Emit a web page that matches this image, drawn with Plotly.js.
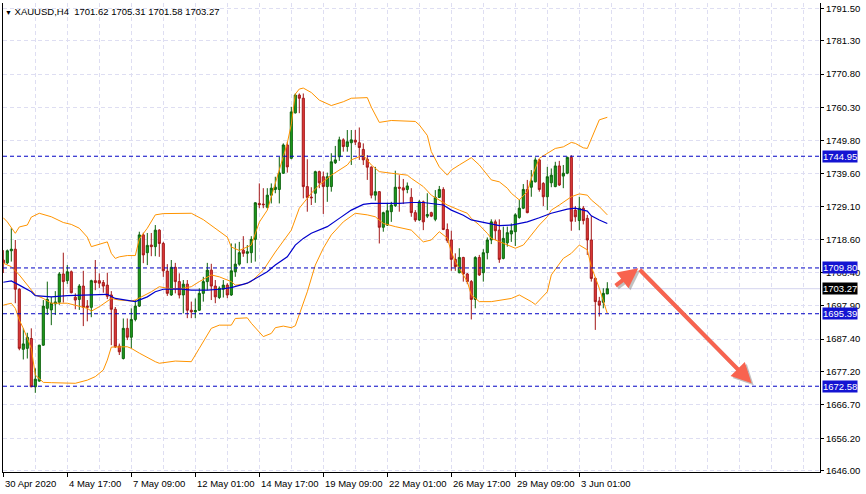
<!DOCTYPE html>
<html><head><meta charset="utf-8">
<script src="https://cdn.plot.ly/plotly-3.0.1.min.js"></script>
<style>html,body{margin:0;padding:0;background:#fff;}#chart{width:866px;height:494px;}</style>
</head><body><div id="chart"></div>
<script>
// ---- XAUUSD H4 candles (bar index = position) ----
const open = [1712.3,1711.4,1715.2,1715.7,1703.1,1684.2,1684.5,1687.6,1672.4,1674.2,
1685.5,1697.1,1696.6,1698.5,1699.0,1707.9,1705.8,1708.6,1700.6,1699.9,
1704.1,1697.8,1697.4,1705.8,1705.8,1705.2,1704.4,1701.3,1696.8,1685.2,
1681.3,1690.8,1688.0,1693.6,1697.8,1720.2,1714.6,1717.0,1716.5,1721.7,
1717.5,1708.8,1701.3,1710.0,1705.5,1701.3,1704.7,1696.5,1696.0,1696.5,
1701.8,1705.5,1709.1,1704.1,1700.5,1703.1,1704.4,1701.3,1708.6,1711.0,
1715.4,1714.4,1714.6,1718.8,1730.1,1729.9,1728.9,1732.7,1734.5,1734.5,
1739.6,1748.5,1744.3,1758.6,1764.2,1763.2,1735.4,1732.1,1733.3,1740.1,
1738.5,1735.4,1735.4,1742.9,1744.8,1750.1,1748.0,1749.2,1750.0,1749.2,
1747.1,1744.0,1741.5,1732.7,1733.8,1722.6,1723.3,1727.5,1729.4,1735.2,
1735.0,1734.5,1732.0,1727.2,1724.9,1730.6,1726.1,1727.2,1725.1,1732.0,
1734.5,1721.9,1718.6,1712.5,1708.3,1713.1,1707.9,1705.5,1699.9,1713.1,
1708.3,1714.6,1718.6,1724.3,1721.7,1712.8,1717.7,1720.5,1721.2,1725.7,
1728.6,1734.5,1735.2,1736.9,1743.8,1736.4,1732.2,1736.6,1735.4,1741.9,
1738.7,1739.6,1744.6,1728.0,1724.7,1728.6,1725.4,1718.6,1706.5,1699.4,
1699.0,1701.62];
const high = [1715.4,1715.6,1722.3,1718.6,1703.4,1690.8,1689.4,1690.8,1678.2,1685.6,
1699.7,1705.5,1700.7,1702.5,1708.5,1714.6,1710.7,1709.0,1701.8,1704.7,
1708.9,1699.7,1706.1,1712.3,1708.1,1706.0,1708.3,1702.5,1697.5,1686.0,
1693.9,1693.9,1697.1,1699.7,1721.2,1720.9,1720.8,1720.8,1723.3,1722.0,
1718.0,1711.0,1712.3,1711.4,1708.1,1706.0,1706.0,1699.2,1700.2,1703.4,
1707.0,1711.4,1711.1,1706.0,1704.0,1706.0,1705.0,1717.5,1717.5,1718.0,
1719.8,1717.0,1719.8,1730.5,1736.4,1734.9,1734.9,1736.4,1738.5,1744.8,
1749.0,1749.5,1760.5,1764.7,1764.7,1764.7,1744.0,1735.2,1740.4,1740.4,
1740.1,1739.8,1745.9,1748.2,1751.1,1750.6,1753.2,1753.2,1753.2,1754.0,
1749.0,1745.3,1741.8,1741.6,1734.0,1727.5,1730.3,1730.6,1740.4,1739.0,
1737.8,1736.7,1734.9,1728.0,1731.2,1731.0,1733.3,1727.5,1734.3,1735.6,
1735.2,1723.8,1721.5,1714.4,1716.0,1713.3,1708.2,1706.0,1713.5,1713.9,
1715.7,1719.4,1725.1,1725.0,1725.1,1722.8,1722.8,1723.8,1727.0,1731.2,
1736.2,1737.5,1740.6,1744.6,1744.1,1736.8,1741.6,1741.1,1743.2,1743.5,
1742.2,1744.8,1745.3,1729.3,1732.2,1729.3,1726.5,1726.1,1706.9,1700.7,
1703.4,1705.31];
const low = [1708.2,1711.0,1711.8,1698.7,1683.9,1681.0,1681.3,1672.3,1670.5,1674.0,
1685.3,1695.0,1691.8,1695.0,1698.2,1698.9,1704.8,1701.8,1696.8,1696.6,
1691.5,1693.0,1694.3,1702.8,1703.5,1702.0,1700.0,1685.5,1684.6,1682.4,
1681.0,1687.1,1684.5,1693.0,1697.5,1711.3,1710.7,1713.5,1713.5,1713.3,
1707.0,1701.0,1701.0,1701.8,1700.2,1695.5,1694.0,1694.0,1694.0,1696.3,
1699.2,1702.8,1699.7,1698.7,1700.0,1700.5,1700.3,1701.0,1707.0,1710.5,
1713.3,1711.3,1711.4,1711.8,1728.6,1728.6,1728.5,1730.1,1733.3,1730.1,
1739.4,1739.8,1744.0,1758.4,1758.5,1731.7,1727.5,1729.6,1730.3,1734.9,
1726.8,1730.6,1733.8,1742.5,1743.5,1746.4,1746.4,1742.2,1748.5,1743.8,
1742.2,1737.5,1731.7,1731.0,1717.5,1721.2,1723.0,1724.3,1729.0,1727.5,
1729.9,1733.3,1725.9,1724.3,1724.6,1721.7,1725.5,1725.8,1724.5,1731.8,
1721.7,1717.7,1708.9,1708.9,1708.1,1705.5,1704.7,1693.6,1697.1,1707.3,
1705.5,1712.5,1717.3,1718.6,1711.4,1712.5,1716.5,1718.0,1716.7,1725.3,
1728.3,1727.0,1732.2,1736.7,1733.8,1729.3,1728.0,1735.2,1735.2,1735.6,
1734.9,1739.3,1721.5,1724.3,1721.7,1723.5,1713.9,1705.5,1690.3,1694.5,
1697.1,1701.58];
const close = [1711.4,1715.2,1715.7,1703.1,1684.5,1685.9,1688.0,1672.4,1674.8,1685.5,
1697.8,1699.9,1698.7,1699.1,1707.9,1705.5,1708.6,1702.0,1699.7,1704.1,
1697.4,1697.4,1705.8,1705.2,1705.0,1704.1,1700.9,1696.8,1685.0,1683.4,
1690.8,1688.0,1693.6,1697.8,1720.2,1713.9,1716.9,1716.5,1721.7,1717.5,
1708.9,1701.8,1710.0,1705.5,1701.3,1704.7,1696.5,1696.0,1696.4,1701.8,
1705.5,1709.1,1704.1,1700.7,1703.4,1704.4,1701.3,1708.9,1711.0,1714.6,
1714.4,1714.9,1718.8,1730.3,1729.7,1729.7,1732.7,1734.9,1735.2,1739.7,
1748.5,1741.6,1758.9,1764.2,1763.2,1735.4,1732.0,1731.9,1740.1,1736.6,
1735.4,1738.5,1743.2,1743.8,1750.1,1748.0,1749.5,1750.1,1749.4,1747.7,
1743.8,1741.5,1732.7,1733.8,1722.6,1727.2,1727.8,1729.6,1735.2,1734.9,
1734.3,1735.6,1727.2,1724.9,1730.6,1724.3,1726.6,1726.1,1732.0,1734.5,
1721.9,1718.4,1712.5,1710.2,1713.1,1707.9,1705.5,1699.9,1713.1,1707.6,
1714.6,1718.6,1724.3,1721.5,1712.5,1719.1,1720.9,1721.5,1726.5,1728.6,
1734.5,1727.2,1737.2,1743.8,1734.5,1732.2,1738.5,1739.0,1741.9,1735.9,
1739.6,1744.6,1724.5,1725.9,1728.6,1724.7,1718.6,1706.5,1699.2,1698.1,
1701.8,1703.27];

// ---- Bollinger upper band (bar index, price) ----
const upperX = [0,1,3,4,6,7,9,12,15,17,19,21,22,24,26,27,28,29,31,33,34,36,38,40,47,50,53,56,57,59,62,64,66,68,70,71,72,73,74,75,77,79,82,85,87,91,92,94,97,103,104,106,107,109,111,112,114,117,119,121,122,124,126,127,129,131,132,134,136,138,140,142,143,145,146,147,149,151];
const upperY = [1725.6,1724.3,1720.7,1722.7,1723.3,1725.8,1727.0,1725.9,1724.1,1723.5,1722.3,1719.5,1716.5,1717.2,1718.0,1714.4,1712.8,1713.3,1713.7,1713.7,1718.9,1722.3,1726.5,1726.9,1727.0,1725.0,1722.3,1719.5,1716.4,1715.3,1717.0,1724.2,1728.0,1736.4,1744.4,1749.1,1755.0,1764.5,1766.1,1766.4,1765.0,1762.6,1760.9,1762.1,1763.2,1763.4,1760.4,1755.6,1756.2,1755.9,1754.8,1751.5,1746.4,1741.6,1739.0,1740.6,1742.2,1744.5,1742.2,1739.0,1737.5,1736.9,1734.9,1733.3,1731.2,1733.8,1738.0,1744.3,1745.9,1747.4,1747.9,1749.3,1749.0,1747.6,1747.4,1750.6,1756.4,1757.2];
// ---- Bollinger middle line ----
const midX = [0,2,4,7,8,10,12,16,18,21,22,24,27,29,32,33,37,39,41,44,47,49,52,54,57,58,60,62,65,68,72,74,77,79,82,86,87,90,92,94,97,101,102,105,107,109,111,114,116,117,119,121,122,124,126,128,130,132,134,136,137,139,141,142,144,146,147,149,151];
const midY = [1711.3,1710.2,1707.6,1702.9,1701.3,1700.2,1698.7,1698.7,1698.1,1697.1,1696.2,1697.6,1700.2,1699.7,1699.4,1699.7,1702.3,1703.9,1703.4,1703.2,1703.9,1705.5,1707.6,1707.0,1705.5,1704.4,1704.6,1705.5,1709.1,1714.8,1721.7,1728.6,1733.3,1735.9,1739.0,1742.2,1743.8,1745.3,1742.2,1740.1,1739.6,1739.0,1738.0,1735.4,1732.7,1731.2,1729.6,1728.0,1727.0,1725.4,1723.3,1720.7,1719.1,1718.1,1717.0,1716.0,1717.0,1720.2,1723.3,1725.9,1728.0,1729.6,1731.2,1732.2,1733.1,1732.7,1731.2,1729.1,1726.5];
// ---- Bollinger lower band ----
const lowX = [0,2,3,4,5,7,8,10,12,18,21,23,25,26,27,31,32,34,38,39,43,47,49,52,54,57,58,61,62,64,65,67,68,70,72,73,74,76,78,80,82,85,88,91,93,95,98,102,105,107,109,111,112,113,116,117,119,122,127,129,132,133,136,137,140,142,144,146,147,149,151];
const lowY = [1698.1,1698.7,1697.1,1693.4,1690.8,1684.5,1676.1,1673.8,1673.7,1673.5,1674.5,1675.6,1677.7,1680.8,1684.9,1685.0,1684.5,1683.0,1680.3,1679.8,1680.5,1680.3,1684.5,1690.8,1691.8,1691.8,1693.9,1694.1,1692.4,1689.7,1688.2,1689.2,1691.0,1691.5,1691.0,1691.6,1695.3,1702.3,1710.7,1716.0,1720.2,1724.3,1727.0,1726.5,1725.9,1723.8,1722.8,1721.7,1718.0,1718.6,1721.2,1719.2,1714.9,1711.8,1705.5,1701.3,1699.2,1699.2,1700.2,1701.3,1699.2,1698.3,1702.3,1707.6,1712.8,1714.4,1717.0,1715.5,1710.2,1703.4,1695.5];
// ---- Moving average (blue) ----
const maX = [0,2,4,7,8,12,16,20,22,26,28,31,33,36,38,40,44,47,51,54,57,61,63,66,68,71,73,75,77,81,84,87,90,92,99,102,105,107,110,112,115,117,121,124,127,131,134,137,141,143,146,147,149,151];
const maY = [1705.3,1705.7,1704.4,1702.3,1701.1,1700.7,1701.1,1701.3,1701.3,1701.5,1700.2,1699.6,1699.2,1700.7,1702.3,1703.1,1703.2,1702.8,1702.8,1703.1,1703.6,1705.0,1706.5,1708.6,1710.7,1713.3,1717.0,1719.1,1720.7,1722.8,1725.4,1728.0,1729.8,1730.1,1730.1,1730.4,1730.4,1730.1,1729.6,1728.0,1726.4,1724.9,1723.8,1723.1,1723.3,1724.3,1725.6,1727.0,1728.3,1728.6,1727.7,1726.2,1724.9,1723.8];

// ---- axes text ----
const tickBars = [0,16,32,48,64,80,96,112,128,144];
const tickLabels = ["30 Apr 2020","4 May 17:00","7 May 09:00","12 May 01:00","14 May 17:00","19 May 09:00","22 May 01:00","26 May 17:00","29 May 09:00","3 Jun 01:00"];
const priceTicks = [1791.5,1781.3,1770.8,1760.3,1749.8,1739.6,1729.1,1718.6,1708.4,1697.9,1687.4,1677.2,1666.7,1656.2,1646.0];
const levels = [1744.95,1709.80,1695.39,1672.58];
const bid = 1703.27;
const titleText = "XAUUSD,H4\u00a0 1701.62 1705.31 1701.58 1703.27";
// ---- drawn arrows (bar index, price) ----
const arrowX = [152.7,158.75,187.1];
const arrowY = [1703.9,1709.7,1673.5];

const FONT = 'Liberation Sans, Arial, sans-serif';
const GRID = '#dedef2';
const xs = open.map((_, i) => i);

const traces = [
  {type:'candlestick', x: xs, open, high, low, close,
   increasing:{line:{color:'#0b620b', width:1}, fillcolor:'#1ea01e'},
   decreasing:{line:{color:'#a31818', width:1}, fillcolor:'#e23c3c'},
   whiskerwidth:0, hoverinfo:'skip'},
  {type:'scatter', mode:'lines', x: upperX, y: upperY, line:{color:'#ff9400', width:1}, hoverinfo:'skip'},
  {type:'scatter', mode:'lines', x: midX, y: midY, line:{color:'#ff9400', width:1}, hoverinfo:'skip'},
  {type:'scatter', mode:'lines', x: lowX, y: lowY, line:{color:'#ff9400', width:1}, hoverinfo:'skip'},
  {type:'scatter', mode:'lines', x: maX, y: maY, line:{color:'#0000cc', width:1.2}, hoverinfo:'skip'}
];

const shapes = [
  {type:'line', xref:'paper', x0:0, x1:1, yref:'y', y0:bid, y1:bid, layer:'below', line:{color:'#d4d4ee', width:1}}
].concat(levels.map(v => ({type:'line', xref:'paper', x0:0, x1:1, yref:'y', y0:v, y1:v,
   line:{color:'#0000c4', width:1, dash:'4px,3px'}})));

const annotations = [];
tickBars.forEach((b, i) => annotations.push({xref:'x', x:b, yref:'paper', y:0, yanchor:'top', xanchor:'left',
  yshift:-4, xshift:0, showarrow:false, text:tickLabels[i], font:{family:FONT, size:9.5, color:'#000'}}));
levels.forEach(v => annotations.push({xref:'paper', x:1, xanchor:'left', xshift:2, yref:'y', y:v, yanchor:'middle',
  showarrow:false, text:v.toFixed(2), bgcolor:'#1414d2', borderpad:0, font:{family:FONT, size:9.5, color:'#fff'}}));
annotations.push({xref:'paper', x:1, xanchor:'left', xshift:2, yref:'y', y:bid, yanchor:'middle',
  showarrow:false, text:bid.toFixed(2), bgcolor:'#000', borderpad:0, font:{family:FONT, size:9.5, color:'#fff'}});
annotations.push({xref:'paper', x:0, y:1, yref:'paper', xanchor:'left', yanchor:'top', xshift:0, yshift:-1,
  showarrow:false, text:'<span style="font-size:7px">\u25bc</span> ' + titleText, font:{family:FONT, size:9.5, color:'#000'}});
// arrow shadows then arrows
[[0,1],[1,2]].forEach(([a,b]) => {
  annotations.push({xref:'x', yref:'y', axref:'x', ayref:'y', x:arrowX[b], y:arrowY[b], ax:arrowX[a], ay:arrowY[a],
    xshift:2, yshift:-2, text:'', showarrow:true, arrowhead:2, arrowsize:1, arrowwidth:4, arrowcolor:'rgba(120,120,120,0.45)', standoff:0});
});
[[0,1],[1,2]].forEach(([a,b]) => {
  annotations.push({xref:'x', yref:'y', axref:'x', ayref:'y', x:arrowX[b], y:arrowY[b], ax:arrowX[a], ay:arrowY[a],
    text:'', showarrow:true, arrowhead:2, arrowsize:1, arrowwidth:4, arrowcolor:'#f8634f', standoff:0});
});

const layout = {
  width:866, height:494,
  margin:{l:3, r:46, t:3, b:22, pad:0},
  paper_bgcolor:'#fff', plot_bgcolor:'#fff',
  showlegend:false, hovermode:false,
  font:{family:FONT, size:9.5, color:'#000'},
  boxgap:0.25,
  xaxis:{range:[-0.075, 204.175], tickmode:'array', tickvals:tickBars, showticklabels:false,
    ticks:'outside', ticklen:4, tickcolor:'#000', tickwidth:1,
    showgrid:true, gridcolor:GRID, griddash:'4px,3px', gridwidth:1,
    minor:{tickmode:'linear', tick0:0, dtick:8, showgrid:true, gridcolor:GRID, griddash:'4px,3px', ticks:''},
    showline:true, linecolor:'#000', linewidth:1, zeroline:false,
    rangeslider:{visible:false}, fixedrange:true},
  yaxis:{side:'right', range:[1645.59, 1793.17], tickmode:'array', tickvals:priceTicks,
    ticktext:priceTicks.map(v => v.toFixed(2)), ticks:'outside', ticklen:3, tickcolor:'#000',
    tickfont:{family:FONT, size:9.5, color:'#000'},
    showgrid:true, gridcolor:GRID, griddash:'4px,3px', gridwidth:1,
    showline:true, mirror:true, linecolor:'#000', linewidth:1, zeroline:false, fixedrange:true},
  shapes, annotations
};

Plotly.newPlot('chart', traces, layout, {staticPlot:true, displayModeBar:false});
</script>
</body></html>
